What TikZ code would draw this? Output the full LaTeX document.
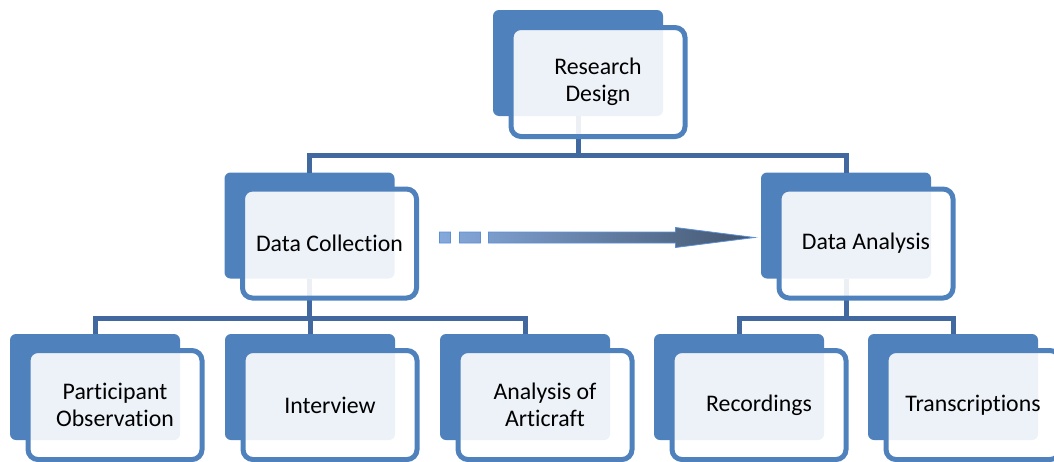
\documentclass[tikz,border=0pt]{standalone}
\usepackage{fontspec}
\setmainfont{Carlito}[Ligatures=NoCommon]
\usetikzlibrary{calc}
\definecolor{boxblue}{HTML}{4F81BD}
\definecolor{linkblue}{HTML}{41689F}
\definecolor{arrowlight}{HTML}{86A9DC}
\definecolor{arrowdark}{HTML}{43566F}
\definecolor{arrowedge}{HTML}{5B8FD6}
\begin{document}
\begin{tikzpicture}[x=1pt,y=-1pt,
  backbox/.style={rectangle,rounded corners=6pt,fill=boxblue,minimum width=170pt,minimum height=106pt,inner sep=0pt,outer sep=0pt},
  frontbox/.style={rectangle,rounded corners=10pt,draw=boxblue,line width=5pt,fill=white,fill opacity=0.9,draw opacity=1,text opacity=1,minimum width=174pt,minimum height=109pt,inner sep=0pt,outer sep=0pt,align=center,font=\fontsize{23.8}{26.5}\selectfont},
  link/.style={draw=linkblue,line width=5pt},
  flow/.style={left color=arrowlight,right color=arrowdark,draw=arrowedge,line width=0.8pt}]
\useasboundingbox (0,0) rectangle (1054,461);
\clip (0,0) rectangle (1054,461);
% back boxes
\node[backbox] (rdb) at (578,63) {};
\node[backbox] (dcb) at (309.5,225.5) {};
\node[backbox] (dab) at (846,225.5) {};
\node[backbox] (pob) at (95,387) {};
\node[backbox] (ivb) at (310,387) {};
\node[backbox] (aab) at (525,387) {};
\node[backbox] (reb) at (739,387) {};
\node[backbox] (trb) at (953,387) {};
% connectors
\draw[link] (rdb.south) -- ++(0,39) -| (dcb.north);
\draw[link] (rdb.south) -- ++(0,39) -| (dab.north);
\draw[link] (dcb.south) -- ++(0,40) -| (pob.north);
\draw[link] (dcb.south) -- ++(0,40) -| (ivb.north);
\draw[link] (dcb.south) -- ++(0,40) -| (aab.north);
\draw[link] (dab.south) -- ++(0,40) -| (reb.north);
\draw[link] (dab.south) -- ++(0,40) -| (trb.north);
% front boxes
\node[frontbox] (rd) at ($(rdb)+(20,19)$) {Research\\Design};
\node[frontbox] (dc) at ($(dcb)+(20,18)$) {Data Collection};
\node[frontbox] (da) at ($(dab)+(20,18)$) {Data Analysis};
\node[frontbox] (po) at ($(pob)+(20,18)$) {Participant\\Observation};
\node[frontbox] (iv) at ($(ivb)+(20,18)$) {Interview};
\node[frontbox] (aa) at ($(aab)+(20,18)$) {Analysis of\\Articraft};
\node[frontbox] (re) at ($(reb)+(20,18)$) {Recordings};
\node[frontbox] (tr) at ($(trb)+(20,18)$) {Transcriptions};
% arrow from Data Collection to Data Analysis
\coordinate (a0) at ($(dc.east)+(23,-6)$);
\coordinate (a1) at ($(a0 -| dab.west)+(-6,0)$);
\begin{scope}[shift={(a0)}]
\shadedraw[flow]
  (0,-5.5) rectangle (11,5.5)
  (20,-5.5) rectangle (41,5.5)
  (49,-5.5) -- (236,-5.5) -- (236,-10) -- (315,0) -- (236,10) -- (236,5.5) -- (49,5.5) -- cycle;
\end{scope}
\end{tikzpicture}
\end{document}
